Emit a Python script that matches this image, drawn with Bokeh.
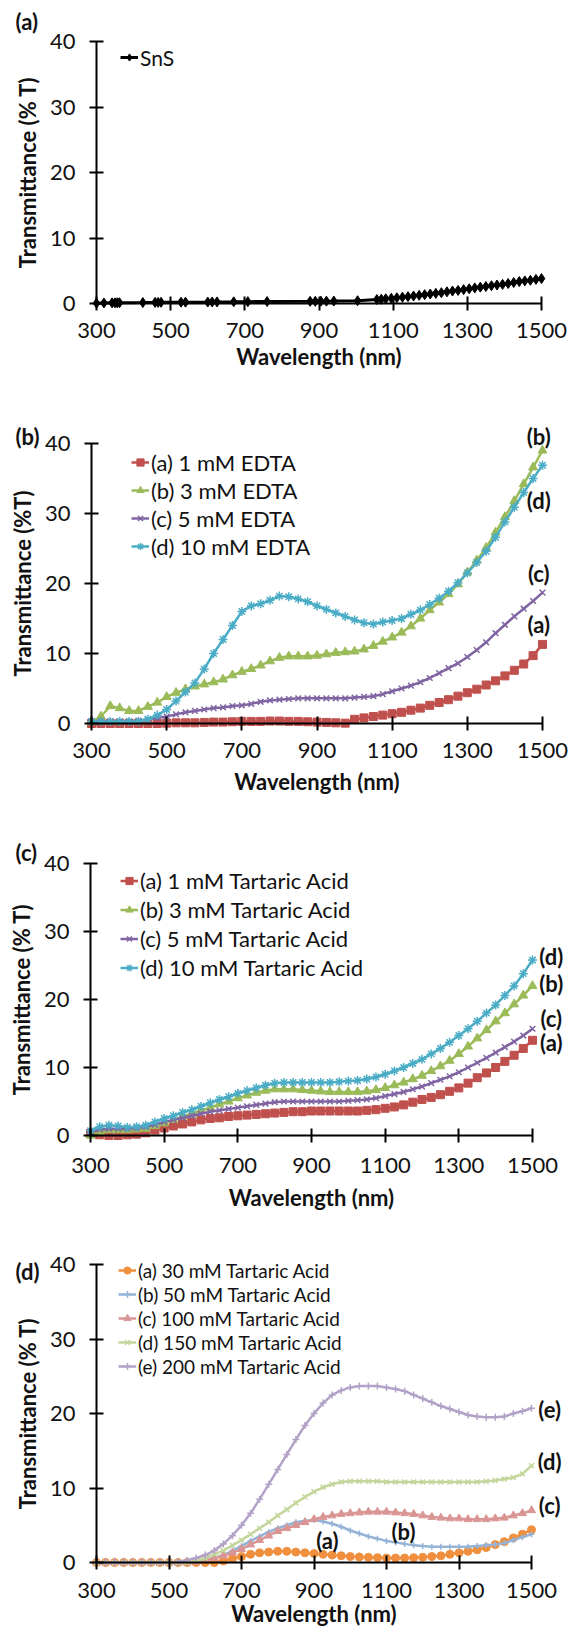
from bokeh.plotting import figure
from bokeh.models import Range1d, FixedTicker, Legend, LegendItem, Label
from bokeh.layouts import column
from bokeh.embed import file_html
from bokeh.resources import INLINE

FONT = "Lato"

# ---------------- data ----------------
X_TICKS = [300, 500, 700, 900, 1100, 1300, 1500]
Y_TICKS = [0, 10, 20, 30, 40]

# (a) SnS
sns_wl = [300, 320, 342, 350, 356, 362, 425, 458, 466, 474, 528, 540, 600, 612, 625,
          670, 708, 760, 876, 890, 905, 920, 940, 1004, 1056, 1068, 1080, 1095, 1110,
          1125, 1140, 1155, 1170, 1185, 1200, 1215, 1230, 1245, 1260, 1275, 1290, 1305,
          1320, 1335, 1350, 1365, 1380, 1395, 1410, 1425, 1440, 1455, 1470, 1485, 1500]
sns_t = [0.05, 0.08, 0.1, 0.1, 0.12, 0.12, 0.15, 0.17, 0.17, 0.18, 0.2, 0.2, 0.22, 0.23, 0.24,
         0.26, 0.28, 0.3, 0.33, 0.34, 0.35, 0.36, 0.37, 0.42, 0.6, 0.65, 0.72, 0.8, 0.88,
         0.97, 1.05, 1.15, 1.25, 1.35, 1.45, 1.55, 1.65, 1.78, 1.9, 2.0, 2.12, 2.25,
         2.38, 2.5, 2.6, 2.72, 2.82, 2.92, 3.05, 3.2, 3.35, 3.45, 3.55, 3.68, 3.8]

# common wavelength grid for panels (b)-(d)
wl = list(range(300, 1501, 25))

# (b) EDTA
edta_1 = [0, 0, 0, 0, 0, 0, 0, 0, 0.05, 0.1, 0.1, 0.1, 0.15, 0.2, 0.2, 0.25, 0.3, 0.3, 0.3,
          0.35, 0.35, 0.3, 0.3, 0.25, 0.2, 0.15, 0.1, 0.05, 0.6, 0.8, 1.0, 1.2, 1.4, 1.6,
          1.9, 2.2, 2.6, 3.0, 3.4, 3.9, 4.4, 4.9, 5.5, 6.1, 6.8, 7.6, 8.5, 9.7, 11.3]
edta_3 = [0.2, 1.0, 2.5, 2.2, 1.8, 1.8, 2.4, 3.0, 3.8, 4.4, 4.9, 5.3, 5.6, 5.9, 6.3, 6.9,
          7.4, 7.8, 8.3, 8.9, 9.4, 9.6, 9.6, 9.6, 9.7, 9.9, 10.1, 10.2, 10.3, 10.6, 11.1,
          11.7, 12.3, 13.0, 13.9, 15.0, 16.2, 17.3, 18.5, 19.9, 21.6, 23.3, 25.1, 27.3,
          29.5, 31.8, 34.2, 36.6, 39.0]
edta_5 = [0.3, 0.3, 0.3, 0.3, 0.3, 0.4, 0.6, 0.8, 1.0, 1.3, 1.6, 1.8, 2.0, 2.2, 2.3, 2.5,
          2.6, 2.8, 3.1, 3.3, 3.4, 3.5, 3.6, 3.6, 3.6, 3.6, 3.6, 3.6, 3.7, 3.8, 3.9, 4.2,
          4.6, 5.0, 5.4, 5.9, 6.5, 7.2, 7.9, 8.6, 9.5, 10.5, 11.6, 12.9, 14.1, 15.3, 16.4,
          17.5, 18.7]
edta_10 = [0.3, 0.3, 0.3, 0.3, 0.3, 0.3, 0.6, 1.2, 2.0, 3.2, 4.5, 5.8, 7.8, 10.0, 12.0,
           14.0, 16.0, 16.8, 17.1, 17.6, 18.2, 18.1, 17.8, 17.4, 16.8, 16.3, 15.8, 15.3,
           14.8, 14.4, 14.2, 14.5, 14.7, 15.0, 15.6, 16.2, 17.0, 17.9, 18.9, 20.1, 21.5,
           23.0, 24.6, 26.6, 28.8, 30.9, 33.0, 35.0, 36.9]

# (c) Tartaric acid, low concentration
ta_1 = [0.3, 0.1, 0.0, 0.0, 0.1, 0.2, 0.4, 0.8, 1.1, 1.4, 1.7, 2.0, 2.3, 2.5, 2.6, 2.8,
        2.9, 3.0, 3.1, 3.2, 3.3, 3.4, 3.5, 3.5, 3.6, 3.6, 3.6, 3.6, 3.6, 3.6, 3.7, 3.8,
        4.0, 4.2, 4.5, 4.9, 5.3, 5.6, 6.0, 6.5, 7.0, 7.7, 8.5, 9.2, 10.0, 10.9, 11.8,
        12.8, 14.0]
ta_3 = [0.0, 0.5, 0.8, 0.8, 0.8, 0.9, 1.0, 1.4, 1.8, 2.3, 2.8, 3.2, 3.7, 4.1, 4.6, 5.0,
        5.5, 5.9, 6.3, 6.6, 6.8, 6.8, 6.8, 6.7, 6.6, 6.5, 6.4, 6.4, 6.4, 6.4, 6.5, 6.7,
        7.0, 7.4, 7.8, 8.3, 8.8, 9.5, 10.2, 11.0, 12.0, 13.1, 14.3, 15.5, 16.8, 18.0,
        19.3, 20.6, 22.0]
ta_5 = [0.5, 0.9, 1.0, 1.0, 1.0, 1.1, 1.3, 1.6, 2.0, 2.3, 2.6, 2.9, 3.2, 3.5, 3.7, 3.9,
        4.1, 4.3, 4.5, 4.7, 4.9, 5.0, 5.0, 5.0, 5.0, 5.0, 5.0, 5.0, 5.1, 5.2, 5.3, 5.5,
        5.8, 6.1, 6.4, 6.8, 7.2, 7.7, 8.2, 8.7, 9.3, 10.0, 10.7, 11.4, 12.2, 13.0, 13.8,
        14.7, 15.7]
ta_10 = [0.7, 1.3, 1.5, 1.4, 1.2, 1.3, 1.5, 2.0, 2.5, 2.9, 3.4, 3.8, 4.3, 4.8, 5.3, 5.7,
         6.2, 6.6, 7.0, 7.4, 7.7, 7.8, 7.8, 7.8, 7.8, 7.8, 7.8, 7.9, 8.0, 8.1, 8.3, 8.6,
         9.0, 9.5, 10.0, 10.6, 11.2, 12.0, 12.8, 13.7, 14.7, 15.7, 16.8, 18.0, 19.2,
         20.6, 22.0, 23.8, 25.8]

# (d) Tartaric acid, high concentration
ta_30 = [0, 0, 0, 0, 0, 0, 0, 0, 0, 0, 0, 0, 0, 0, 0.2, 0.5, 0.8, 1.1, 1.3, 1.4, 1.5, 1.5,
         1.4, 1.3, 1.2, 1.1, 1.0, 0.9, 0.8, 0.75, 0.7, 0.65, 0.6, 0.6, 0.6, 0.65, 0.7,
         0.8, 0.9, 1.1, 1.3, 1.5, 1.7, 2.0, 2.4, 2.8, 3.3, 3.8, 4.4]
ta_50 = [0, 0, 0, 0, 0, 0, 0, 0, 0, 0, 0, 0.1, 0.3, 0.6, 1.0, 1.6, 2.2, 2.9, 3.5, 4.1,
         4.6, 5.0, 5.4, 5.6, 5.7, 5.5, 5.2, 4.8, 4.3, 3.9, 3.5, 3.2, 2.9, 2.7, 2.5, 2.3,
         2.2, 2.1, 2.1, 2.1, 2.1, 2.1, 2.2, 2.3, 2.4, 2.6, 3.0, 3.4, 3.8]
ta_100 = [0, 0, 0, 0, 0, 0, 0, 0, 0, 0, 0, 0.1, 0.3, 0.6, 0.9, 1.3, 1.8, 2.4, 3.0, 3.6,
          4.2, 4.6, 5.0, 5.4, 5.8, 6.1, 6.3, 6.5, 6.6, 6.7, 6.8, 6.8, 6.8, 6.7, 6.6, 6.5,
          6.3, 6.1, 6.0, 5.9, 5.9, 5.8, 5.8, 5.8, 5.9, 6.0, 6.3, 6.6, 7.0]
ta_150 = [0, 0, 0, 0, 0, 0, 0, 0, 0, 0, 0, 0.2, 0.6, 1.1, 1.6, 2.3, 3.0, 3.8, 4.6, 5.4,
          6.3, 7.1, 8.0, 8.8, 9.5, 10.1, 10.5, 10.8, 10.9, 10.9, 10.9, 10.9, 10.8, 10.8,
          10.8, 10.8, 10.8, 10.8, 10.8, 10.8, 10.8, 10.8, 10.8, 10.9, 11.0, 11.2, 11.4,
          11.9, 13.0]
ta_200 = [0, 0, 0, 0, 0, 0, 0, 0, 0, 0.1, 0.3, 0.6, 1.0, 1.6, 2.5, 3.6, 5.0, 6.6, 8.5,
          10.5, 12.5, 14.5, 16.5, 18.4, 20.0, 21.4, 22.5, 23.1, 23.5, 23.7, 23.7, 23.7,
          23.5, 23.3, 23.0, 22.5, 22.0, 21.5, 21.0, 20.6, 20.2, 19.8, 19.6, 19.5, 19.5,
          19.6, 20.0, 20.3, 20.7]

RED, GREEN, PURPLE, AQUA = "#C0504D", "#9BBB59", "#8064A2", "#4BACC6"
ORANGE, LBLUE, PINK, LGREEN, LAV = "#F0903F", "#95B3D7", "#D99694", "#C3D69B", "#B3A2C7"

PANELS = [
    dict(tag="(a)", top=0, bottom=415, X300=96, X1500=541, Y40=41, Y0=303,
         xstand=12, xlstand=2,
         ylabel="Transmittance (% T)",
         series=[("SnS", sns_wl, sns_t, "black", "diamond", 10, 3)],
         leg_x=120, leg_y=57, pitch=28, leg_font="21px",
         tags=[], tag_xy=(15, 21)),
    dict(tag="(b)", top=415, bottom=832, X300=91, X1500=542, Y40=443, Y0=723,
         xstand=12, xlstand=7,
         ylabel="Transmittance (%T)",
         series=[("(a) 1 mM EDTA", wl, edta_1, RED, "square", 8, 2.5),
                 ("(b) 3 mM EDTA", wl, edta_3, GREEN, "triangle", 9, 2.5),
                 ("(c) 5 mM EDTA", wl, edta_5, PURPLE, "x", 8, 2.5),
                 ("(d) 10 mM EDTA", wl, edta_10, AQUA, "asterisk", 9, 2.5)],
         leg_x=131, leg_y=462, pitch=28, leg_font="22px",
         tags=[("(b)", 1490, 41.0), ("(d)", 1490, 31.9), ("(c)", 1490, 21.5), ("(a)", 1490, 14.1)],
         tag_xy=(15, 436)),
    dict(tag="(c)", top=832, bottom=1222, X300=90, X1500=532, Y40=863, Y0=1135,
         xstand=15, xlstand=8,
         ylabel="Transmittance (% T)",
         series=[("(a) 1 mM Tartaric Acid", wl, ta_1, RED, "square", 8, 2.5),
                 ("(b) 3 mM Tartaric Acid", wl, ta_3, GREEN, "triangle", 9, 2.5),
                 ("(c) 5 mM Tartaric Acid", wl, ta_5, PURPLE, "x", 8, 2.5),
                 ("(d) 10 mM Tartaric Acid", wl, ta_10, AQUA, "asterisk", 9, 2.5)],
         leg_x=120, leg_y=880, pitch=29, leg_font="22px",
         tags=[("(d)", 1551, 26.3), ("(b)", 1551, 22.3), ("(c)", 1551, 17.2), ("(a)", 1551, 13.7)],
         tag_xy=(15, 852)),
    dict(tag="(d)", top=1222, bottom=1629, X300=96, X1500=531, Y40=1264, Y0=1562,
         xstand=13, xlstand=-1,
         ylabel="Transmittance (% T)",
         series=[("(a) 30 mM Tartaric Acid", wl, ta_30, ORANGE, "circle", 8, 2.5),
                 ("(b) 50 mM Tartaric Acid", wl, ta_50, LBLUE, "cross", 6, 2.5),
                 ("(c) 100 mM Tartaric Acid", wl, ta_100, PINK, "triangle", 8, 2.5),
                 ("(d) 150 mM Tartaric Acid", wl, ta_150, LGREEN, "x", 7, 2.5),
                 ("(e) 200 mM Tartaric Acid", wl, ta_200, LAV, "cross", 7, 2.5)],
         leg_x=118, leg_y=1270, pitch=24, leg_font="19px",
         tags=[("(e)", 1550, 20.6), ("(d)", 1550, 13.6), ("(c)", 1550, 7.7),
               ("(b)", 1147, 4.1), ("(a)", 937, 3.0)],
         tag_xy=(15, 1271)),
]

W = 568


def build(cfg):
    X300, X1500, Y40, Y0 = cfg["X300"], cfg["X1500"], cfg["Y40"], cfg["Y0"]
    top, bottom = cfg["top"], cfg["bottom"]
    H = bottom - top
    sx = 1200.0 / (X1500 - X300)
    sy = 40.0 / (Y0 - Y40)
    # the frame covers the whole figure; axes are pinned at x=300 and y=0
    p = figure(width=W, height=H,
               min_border_left=0, min_border_right=0, min_border_top=0, min_border_bottom=0,
               x_range=Range1d(300 - X300 * sx, 300 + (W - X300) * sx),
               y_range=Range1d((Y0 - bottom) * sy, (Y0 - top) * sy),
               output_backend="svg", toolbar_location=None,
               background_fill_color="white", border_fill_color="white")
    p.outline_line_color = None
    p.xgrid.grid_line_color = None
    p.ygrid.grid_line_color = None

    for ax, ticks, lab, loc, bnd in ((p.xaxis[0], X_TICKS, "Wavelength (nm)", 0, (300, 1500)),
                                     (p.yaxis[0], Y_TICKS, cfg["ylabel"], 300, (0, 40))):
        ax.ticker = FixedTicker(ticks=ticks)
        ax.fixed_location = loc
        ax.bounds = bnd
        ax.axis_label = lab
        ax.axis_line_color = "black"
        ax.axis_line_width = 2
        ax.major_tick_line_color = "black"
        ax.major_tick_line_width = 2
        ax.major_tick_in = 7
        ax.major_tick_out = 7
        ax.minor_tick_line_color = None
        ax.major_label_text_font = FONT
        ax.major_label_text_font_size = "22px"
        ax.major_label_text_color = "#111111"
        ax.axis_label_text_font = FONT
        ax.axis_label_text_font_style = "bold"
        ax.axis_label_text_font_size = "22px"
        ax.axis_label_text_color = "#111111"
    p.xaxis[0].major_label_standoff = cfg["xstand"]
    p.xaxis[0].axis_label_standoff = cfg["xlstand"]
    p.yaxis[0].major_label_standoff = 14
    p.yaxis[0].axis_label_standoff = 6

    items = []
    for name, xs, ys, col, mk, sz, lw in cfg["series"]:
        lr = p.line(xs, ys, line_color=col, line_width=lw)
        sr = p.scatter(xs, ys, marker=mk, size=sz, fill_color=col, line_color=col,
                       line_width=1.5 if mk in ("x", "asterisk", "cross") else 1)
        items.append(LegendItem(label=name, renderers=[lr, sr]))

    n = len(items)
    pitch = cfg["pitch"]
    leg_bottom_px = cfg["leg_y"] - top - pitch / 2 + n * pitch
    legend = Legend(items=items, location=(cfg["leg_x"], H - leg_bottom_px),
                    padding=0, margin=0, spacing=0, glyph_width=18,
                    glyph_height=pitch, label_height=pitch, label_standoff=2,
                    border_line_color=None, background_fill_alpha=0,
                    label_text_font=FONT, label_text_font_size=cfg["leg_font"],
                    label_text_color="#111111")
    p.add_layout(legend)

    # panel tag at top-left (pixel position converted to data units)
    tx, ty = cfg["tag_xy"]
    p.add_layout(Label(x=300 + (tx - X300) * sx, y=(Y0 - ty) * sy, text=cfg["tag"],
                       text_font=FONT, text_font_style="bold", text_font_size="22px",
                       text_align="left", text_baseline="middle", text_color="#111111"))
    for t, x, y in cfg["tags"]:
        p.add_layout(Label(x=x, y=y, text=t, text_font=FONT, text_font_style="bold",
                           text_font_size="22px", text_align="center",
                           text_baseline="middle", text_color="#111111"))
    return p


figs = [build(c) for c in PANELS]
layout = column(*figs, spacing=0)
open("out.html", "w").write(file_html(layout, INLINE))
